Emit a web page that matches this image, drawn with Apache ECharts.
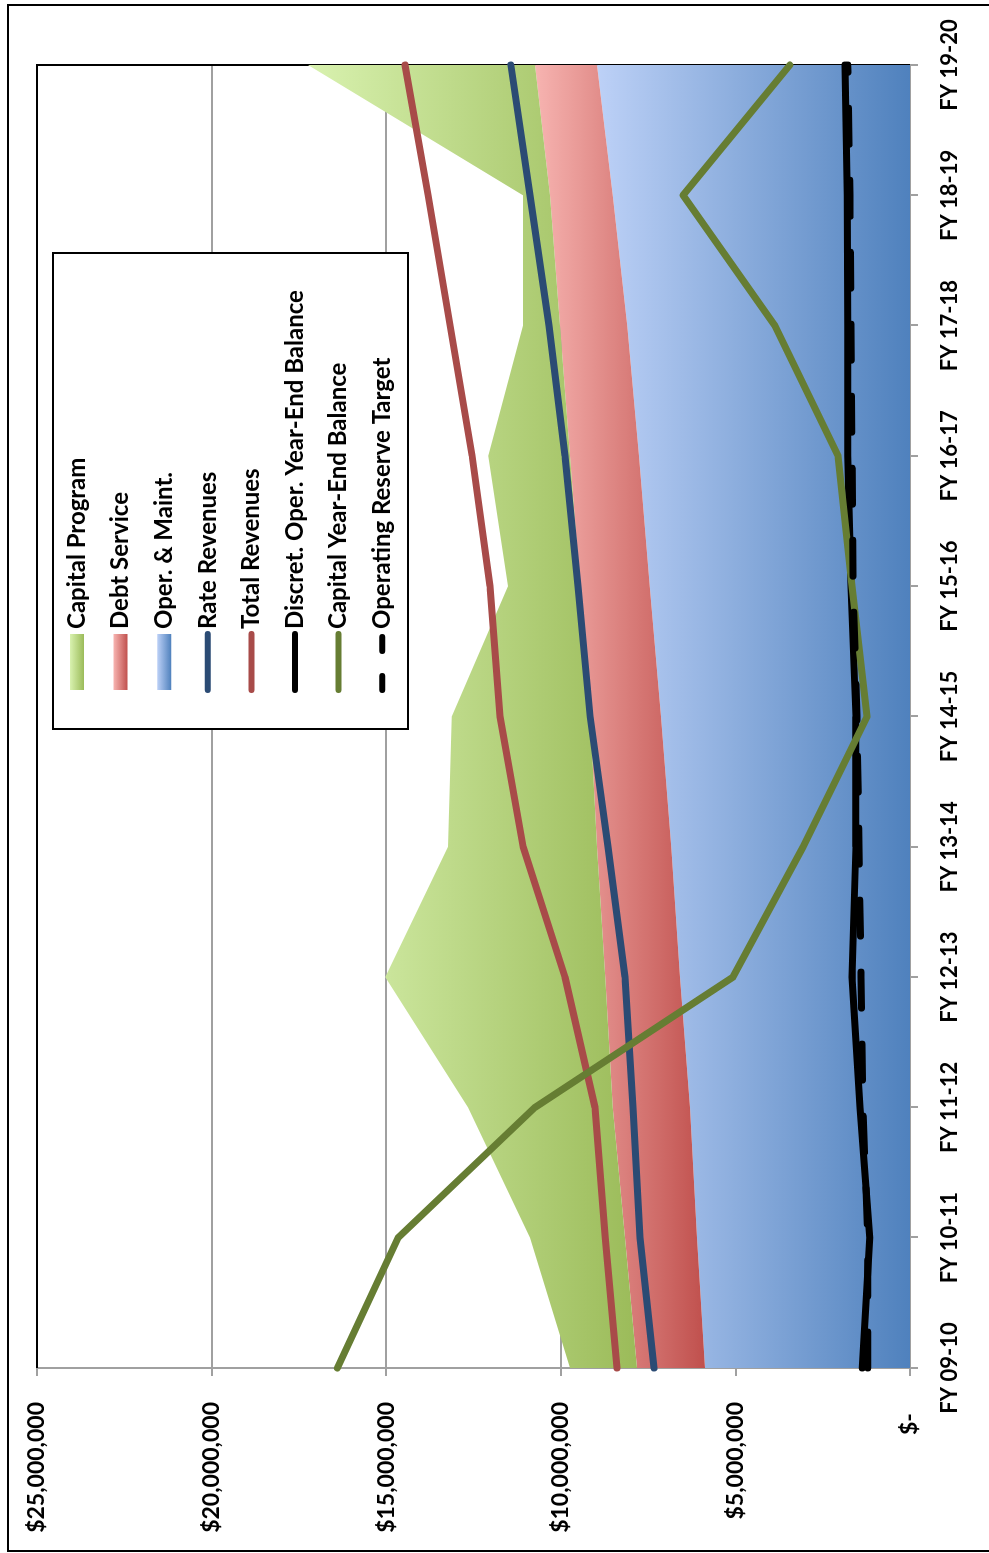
<!DOCTYPE html>
<html>
<head>
<meta charset="utf-8">
<script src="https://cdn.jsdelivr.net/npm/echarts@6/dist/echarts.min.js"></script>
<style>
html, body { margin: 0; padding: 0; width: 989px; height: 1553px; overflow: hidden; background: #fff; }
/* chart is drawn landscape, then turned a quarter turn to the left like the source */
#main { position: absolute; left: 0; top: 0; width: 1553px; height: 989px;
        transform-origin: 0 0; transform: translateY(1553px) rotate(-90deg); }
</style>
</head>
<body>
<div id="main"></div>
<script>
var years = ['FY 09-10', 'FY 10-11', 'FY 11-12', 'FY 12-13', 'FY 13-14', 'FY 14-15',
             'FY 15-16', 'FY 16-17', 'FY 17-18', 'FY 18-19', 'FY 19-20'];

// stacked areas (bottom to top)
var operMaint      = [5870000, 6100000, 6300000, 6590000, 6840000, 7130000, 7450000, 7760000, 8100000, 8510000, 8960000];
var debtService    = [1950000, 2060000, 2210000, 2140000, 2120000, 2030000, 2000000, 1980000, 1920000, 1800000, 1780000];
var capitalProgram = [1920000, 2720000, 4150000, 6300000, 4270000, 3960000, 2060000, 2340000, 1060000, 770000, 6500000];

// lines
var rateRevenues   = [7330000, 7730000, 7930000, 8160000, 8650000, 9160000, 9510000, 9880000, 10340000, 10880000, 11430000];
var totalRevenues  = [8390000, 8730000, 9020000, 9880000, 11080000, 11740000, 12030000, 12540000, 13170000, 13800000, 14460000];
var discretBalance = [1370000, 1150000, 1430000, 1660000, 1550000, 1550000, 1690000, 1780000, 1780000, 1800000, 1860000];
var capitalBalance = [16400000, 14660000, 10740000, 5070000, 3060000, 1230000, 1660000, 2060000, 3870000, 6500000, 3440000];
var reserveTarget  = [1210000, 1210000, 1350000, 1400000, 1460000, 1520000, 1630000, 1660000, 1690000, 1720000, 1780000];

var font = 'Lato';

function grad(light, dark) {
    return new echarts.graphic.LinearGradient(0, 0, 0, 1, [
        {offset: 0, color: light},
        {offset: 1, color: dark}
    ]);
}
var greenFill = grad('#d9f2b0', '#9bbb59');
var redFill = grad('#f7b4b1', '#c0504d');
var blueFill = grad('#bdd1f7', '#4f81bd');

function areaSeries(name, data, fill) {
    return {
        name: name, type: 'line', stack: 'cost', data: data,
        symbol: 'none', lineStyle: {width: 0},
        itemStyle: {color: fill},
        areaStyle: {color: fill, opacity: 1},
        z: 2
    };
}
function lineSeries(name, data, color, dash) {
    return {
        name: name, type: 'line', data: data, symbol: 'none',
        itemStyle: {color: color},
        lineStyle: {color: color, width: 7, cap: 'round', join: 'round', type: dash || 'solid'},
        z: 3
    };
}
// legend entry for a line: just the stroke, no marker
function lineKey(name, dash) {
    return {
        name: name,
        itemStyle: {opacity: 0},
        lineStyle: {width: 6, cap: 'round', type: dash || 'solid'}
    };
}

var myChart = echarts.init(document.getElementById('main'));

var option = {
    animation: false,
    backgroundColor: '#fff',
    grid: {left: 185, right: 65, top: 37, bottom: 79},
    legend: {
        orient: 'vertical',
        left: 860, top: 65,
        padding: 0,
        itemWidth: 56, itemHeight: 14, itemGap: 19.6,
        z: 6,
        textStyle: {fontFamily: font, fontSize: 24, fontWeight: 'bold', color: '#000', lineHeight: 22},
        data: [
            {name: 'Capital Program', icon: 'rect'},
            {name: 'Debt Service', icon: 'rect'},
            {name: 'Oper. & Maint.', icon: 'rect'},
            lineKey('Rate Revenues'),
            lineKey('Total Revenues'),
            lineKey('Discret. Oper. Year-End Balance'),
            lineKey('Capital Year-End Balance'),
            lineKey('Operating Reserve Target', [14, 25])
        ]
    },
    xAxis: {
        type: 'category',
        data: years,
        boundaryGap: false,
        axisLine: {lineStyle: {color: '#a0a0a0', width: 2}},
        axisTick: {show: true, length: 8, interval: 0, lineStyle: {color: '#a0a0a0', width: 2}},
        axisLabel: {interval: 0, margin: 29, fontFamily: font, fontSize: 22, fontWeight: 'bold', color: '#000'}
    },
    yAxis: {
        type: 'value',
        min: 0, max: 25000000, interval: 5000000,
        axisLine: {show: true, lineStyle: {color: '#a0a0a0', width: 2}},
        axisTick: {show: true, length: 8, lineStyle: {color: '#a0a0a0', width: 2}},
        splitLine: {lineStyle: {color: '#a0a0a0', width: 2}},
        axisLabel: {
            margin: 34, fontFamily: font, fontSize: 23, fontWeight: 'bold', color: '#000',
            formatter: function (v) {
                return v === 0 ? '$-  ' : '$' + v.toLocaleString('en-US');
            }
        }
    },
    graphic: [
        // outer chart frame
        {type: 'polyline', z: 1, shape: {points: [[2, 995], [2, 8], [1548, 8], [1548, 995]]},
         style: {stroke: '#000', lineWidth: 2, fill: null}},
        // plot area frame, top and right sides
        {type: 'polyline', z: 1, shape: {points: [[185, 37], [1488, 37], [1488, 910]]},
         style: {stroke: '#000', lineWidth: 2, fill: null}},
        // legend box
        {type: 'rect', z: 5, shape: {x: 824, y: 53, width: 476, height: 355},
         style: {stroke: '#000', lineWidth: 2, fill: '#fff'}}
    ],
    series: [
        areaSeries('Oper. & Maint.', operMaint, blueFill),
        areaSeries('Debt Service', debtService, redFill),
        areaSeries('Capital Program', capitalProgram, greenFill),
        lineSeries('Rate Revenues', rateRevenues, '#2b4b74'),
        lineSeries('Total Revenues', totalRevenues, '#a84b49'),
        lineSeries('Discret. Oper. Year-End Balance', discretBalance, '#000'),
        lineSeries('Capital Year-End Balance', capitalBalance, '#667d33'),
        lineSeries('Operating Reserve Target', reserveTarget, '#000', [36, 36])
    ]
};

myChart.setOption(option);
</script>
</body>
</html>
